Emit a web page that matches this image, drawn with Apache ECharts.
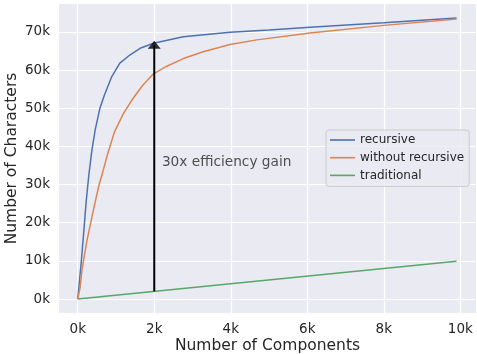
<!DOCTYPE html>
<html><head><meta charset="utf-8">
<script src="https://cdn.jsdelivr.net/npm/echarts@6/dist/echarts.min.js"></script>
<style>html,body{margin:0;padding:0;background:#fff}#c{width:477px;height:354px}</style>
</head><body><div id="c"></div>
<script>
var recursive = [[0,0],[90,9500],[160,18000],[220,25500],[290,32500],[370,39000],[460,44500],[580,50000],[700,53500],[890,58300],[1100,61800],[1370,64000],[1630,65700],[1980,67000],[2760,68700],[3980,69900],[5000,70500],[6070,71200],[8000,72400],[9900,73600]];
var withoutRecursive = [[0,0],[60,2900],[110,7500],[150,10000],[240,15300],[340,20000],[450,25200],[560,30000],[660,33500],[770,37600],[960,43800],[1200,48700],[1420,52200],[1700,56000],[1980,59000],[2330,61000],[2760,63000],[3280,64800],[3980,66700],[4680,67900],[6070,69700],[8000,71700],[9900,73400]];
var traditional = [[0,0],[9900,9900]];
var arrowLine = [[2000,2000],[2000,66600]];
var arrowHead = [[2000,66600]];
var annotation = [[2200,35700,'30x efficiency gain']];
var xTicks = [0,2000,4000,6000,8000,10000];
var yTicks = [0,10000,20000,30000,40000,50000,60000,70000];
var seriesNames = ['recursive','without recursive','traditional'];

var font = 'DejaVu Sans';
var txt = '#262626';
var chart = echarts.init(document.getElementById('c'), null, {renderer:'canvas'});
chart.setOption({
  animation:false,
  textStyle:{fontFamily:font},
  grid:{left:59,right:1,top:4,bottom:41,show:true,backgroundColor:'#eaeaf2',borderWidth:0,outerBoundsMode:'none'},
  xAxis:{type:'value',min:-490,max:10410,
    name:'Number of Components',nameLocation:'middle',nameGap:25,nameMoveOverlap:false,
    nameTextStyle:{fontSize:15.5,color:txt,fontFamily:font},
    axisLine:{show:false},axisTick:{show:false,customValues:xTicks},
    axisLabel:{customValues:xTicks,color:txt,fontSize:13.5,fontFamily:font,margin:9,formatter:function(v){return (v/1000)+'k';}},
    splitLine:{show:true,lineStyle:{color:'#ffffff',width:1.2}}},
  yAxis:{type:'value',min:-3660,max:77300,
    name:'Number of Characters',nameLocation:'middle',nameGap:39,nameMoveOverlap:false,
    nameTextStyle:{fontSize:15.5,color:txt,fontFamily:font},
    axisLine:{show:false},axisTick:{show:false,customValues:yTicks},
    axisLabel:{customValues:yTicks,color:txt,fontSize:13.5,fontFamily:font,margin:9,formatter:function(v){return (v/1000)+'k';}},
    splitLine:{show:true,lineStyle:{color:'#ffffff',width:1.2}}},
  legend:{data:seriesNames,orient:'vertical',left:326,top:130,
    padding:[3,5,4,4],itemGap:3.7,itemWidth:25,itemHeight:1.6,itemTextGap:9,icon:'rect',
    backgroundColor:'rgba(234,234,242,0.8)',borderColor:'#cccccc',borderWidth:1,borderRadius:3,
    textStyle:{fontSize:12,color:txt,fontFamily:font,lineHeight:14}},
  series:[
    {name:'recursive',type:'line',data:recursive,showSymbol:false,symbol:'none',lineStyle:{color:'#4c72b0',width:1.5},itemStyle:{color:'#4c72b0'},z:3},
    {name:'without recursive',type:'line',data:withoutRecursive,showSymbol:false,symbol:'none',lineStyle:{color:'#dd8452',width:1.5},itemStyle:{color:'#dd8452'},z:3},
    {name:'traditional',type:'line',data:traditional,showSymbol:false,symbol:'none',lineStyle:{color:'#55a868',width:1.5},itemStyle:{color:'#55a868'},z:3},
    {name:'arrow',type:'line',data:arrowLine,showSymbol:false,symbol:'none',lineStyle:{color:'#000000',width:2},z:4,silent:true},
    {name:'arrowhead',type:'scatter',data:arrowHead,symbol:'triangle',symbolSize:[13,8],itemStyle:{color:'#000000'},z:5,silent:true},
    {name:'annotation',type:'scatter',data:annotation,symbolSize:0,z:5,silent:true,
      label:{show:true,position:'right',distance:0,formatter:function(p){return p.data[2];},fontSize:13.7,color:txt,fontFamily:font}}
  ]
});
</script></body></html>
